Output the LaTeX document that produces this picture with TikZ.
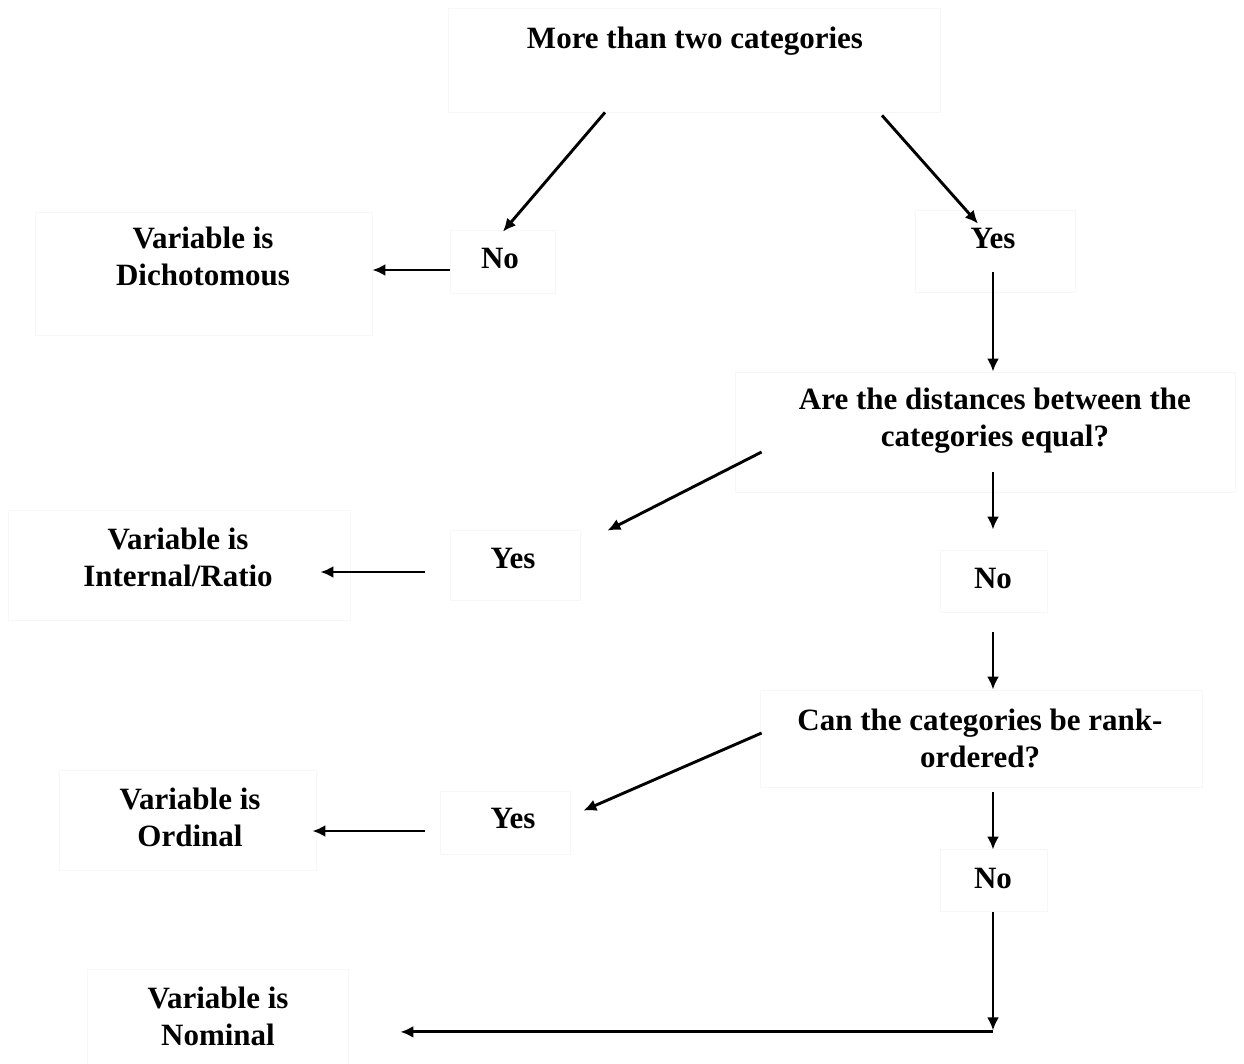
\documentclass[tikz,border=0pt]{standalone}
\usepackage{fontspec}
\setmainfont{Liberation Serif}
\usetikzlibrary{arrows.meta,calc}
\tikzset{
  box/.style={draw=black!3,line width=0.8pt,rectangle,inner sep=0pt},
  lbl/.style={font=\fontsize{31}{37}\selectfont\bfseries,align=center,inner sep=0pt,text depth=0pt},
  conn/.style={line width=2.9pt,-{Latex[length=13pt,width=12pt]}},
}
\begin{document}
\begin{tikzpicture}[x=1pt,y=-1pt]
\useasboundingbox (0,0) rectangle (1244,1063);
% faint boxes
\node[box,minimum width=492pt,minimum height=104pt] (top) at (694,60) {};
\node[box,minimum width=105pt,minimum height=63pt] (no1) at (502.5,261.5) {};
\node[box,minimum width=160pt,minimum height=82pt] (yes1) at (995,251) {};
\node[box,minimum width=337pt,minimum height=123pt] (dich) at (203.5,273.5) {};
\node[box,minimum width=500pt,minimum height=120pt] (q1) at (985,432) {};
\node[box,minimum width=130pt,minimum height=70pt] (yes2) at (515,565) {};
\node[box,minimum width=107pt,minimum height=62pt] (no2) at (993.5,581) {};
\node[box,minimum width=342pt,minimum height=110pt] (intr) at (179,565) {};
\node[box,minimum width=442pt,minimum height=97pt] (q2) at (981,738.5) {};
\node[box,minimum width=130pt,minimum height=63pt] (yes3) at (505,822.5) {};
\node[box,minimum width=107pt,minimum height=62pt] (no3) at (993.5,880) {};
\node[box,minimum width=257pt,minimum height=100pt] (ord) at (187.5,820) {};
\node[box,minimum width=261pt,minimum height=100pt] (nom) at (217.5,1019) {};
% texts
\node[lbl] (ttop) at (695,38) {More than two categories};
\node[lbl] (tno1) at (500,258) {No};
\node[lbl] (tyes1) at (993,238) {Yes};
\node[lbl] (tdich) at (203,256) {Variable is\\Dichotomous};
\node[lbl] (tq1) at (995,417) {Are the distances between the\\categories equal?};
\node[lbl] (tyes2) at (513,558) {Yes};
\node[lbl] (tno2) at (993,578) {No};
\node[lbl] (tintr) at (178,557) {Variable is\\Internal/Ratio};
\node[lbl] (tq2) at (980,738) {Can the categories be rank-\\ordered?};
\node[lbl] (tyes3) at (513,818) {Yes};
\node[lbl] (tno3) at (993,878) {No};
\node[lbl] (tord) at (190,817) {Variable is\\Ordinal};
\node[lbl] (tnom) at (218,1016) {Variable is\\Nominal};
\coordinate (corner) at ($(no3.south)+(-0.5,119)$);
% connectors
\draw[conn] ($(top.south)+(-89,0)$) -- ($(no1.north)+(0.5,2)$);
\draw[conn] ($(top.south)+(188,3)$) -- ($(yes1.north)+(-17,14)$);
\draw[conn] ($(no1.west)+(0,8.5)$) -- ($(dich.east)+(0,-3.5)$);
\draw[conn] ($(yes1.south)+(-2,-20)$) -- ($(q1.north)+(8,0)$);
\draw[conn] ($(q1.west)+(27,20)$) -- ($(yes2.north east)+(27,1)$);
\draw[conn] ($(q1.south)+(8,-20)$) -- ($(no2.north)+(-0.5,-20)$);
\draw[conn] ($(yes2.west)+(-25,7)$) -- ($(intr.east)+(-30,7)$);
\draw[conn] ($(no2.south)+(-0.5,20)$) -- ($(q2.north)+(12,0)$);
\draw[conn] ($(q2.west)+(2,-5.5)$) -- ($(yes3.north east)+(13,20)$);
\draw[conn] ($(q2.south)+(12,5)$) -- ($(no3.north)+(-0.5,1)$);
\draw[conn] ($(yes3.west)+(-15,8.5)$) -- ($(ord.east)+(-4,11)$);
\draw[conn] ($(no3.south)+(-0.5,1)$) -- (corner);
\draw[conn] ($(corner)+(0,1.5)$) -- ($(nom.east |- corner)+(52,1.5)$);
\end{tikzpicture}
\end{document}
